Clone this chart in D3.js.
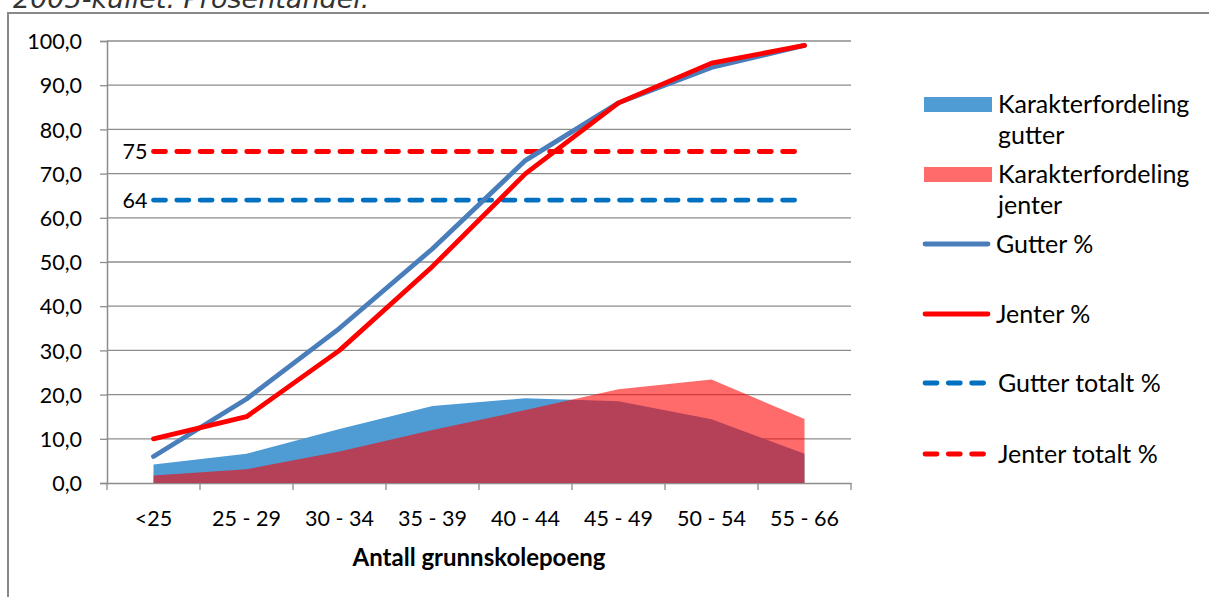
<!DOCTYPE html>
<html><head><meta charset="utf-8">
<script src="https://cdn.jsdelivr.net/npm/d3@7"></script>
<style>
body{margin:0;background:#fff;}
svg{display:block;}
text{font-family:Lato,"Open Sans",sans-serif;fill:#000;}
</style></head>
<body>
<svg id="c" width="1209" height="597"></svg>
<script>
const categories = ["<25","25 - 29","30 - 34","35 - 39","40 - 44","45 - 49","50 - 54","55 - 66"];
const fordelingGutter = [4.2, 6.6, 12.2, 17.4, 19.2, 18.5, 14.4, 6.6];
const fordelingJenter = [1.7, 3.1, 7.1, 12.0, 16.5, 21.2, 23.4, 14.5];
const gutterPct = [6, 19, 35, 53, 73, 86, 94, 99];
const jenterPct = [10, 15, 30, 49, 70, 86, 95, 99];
const gutterTotal = 64;
const jenterTotal = 75;
const yTicks = [0,10,20,30,40,50,60,70,80,90,100];
const seriesNames = ["Karakterfordeling gutter","Karakterfordeling jenter","Gutter %","Jenter %","Gutter totalt %","Jenter totalt %"];

const svg = d3.select("#c");
const L = 107, R = 851, T = 41, B = 483;
const x = d3.scaleBand().domain(categories).range([L, R]);
const xc = d => x(d) + x.bandwidth()/2;
const y = d3.scaleLinear().domain([0,100]).range([B, T]);
const AX = "21.5px";

// title (cut off at top)
svg.append("text").attr("x", 13).attr("y", 8)
  .style("font-family","'DejaVu Sans',sans-serif").style("font-style","italic")
  .style("font-size","27px").style("fill","#333").text("2005-kullet. Prosentandel.");

// outer border
svg.append("path").attr("d","M8,597 L8,13 L1209,13").attr("fill","none").attr("stroke","#888").attr("stroke-width",2);

// gridlines
svg.append("g").selectAll("line").data(yTicks.slice(1)).join("line")
  .attr("x1", L).attr("x2", R).attr("y1", d=>y(d)).attr("y2", d=>y(d))
  .attr("stroke","#8c8c8c").attr("stroke-width",1.3);

// y axis
const ya = svg.append("g").attr("transform",`translate(${L},0)`)
  .call(d3.axisLeft(y).tickValues(yTicks).tickSize(7).tickPadding(3).tickFormat(d=>d3.format(".1f")(d).replace(".",",")));
ya.select(".domain").attr("stroke","#8c8c8c").attr("stroke-width",1.5);
ya.selectAll(".tick line").attr("stroke","#8c8c8c").attr("stroke-width",1.3);
ya.selectAll("text").style("font-size",AX).attr("x",-25).attr("dy","0.36em");

// x axis
const xa = svg.append("g").attr("transform",`translate(0,${B})`)
  .call(d3.axisBottom(x).tickSize(0));
xa.select(".domain").attr("stroke","#8c8c8c").attr("stroke-width",1.5);
xa.selectAll("text").style("font-size",AX).attr("y",43).attr("dy",0);
svg.append("g").selectAll("line").data(d3.range(categories.length+1)).join("line")
  .attr("x1",i=>L + i*x.bandwidth()).attr("x2",i=>L + i*x.bandwidth())
  .attr("y1",B).attr("y2",B+7).attr("stroke","#8c8c8c").attr("stroke-width",1.3);

svg.append("text").attr("x",(L+R)/2).attr("y",566).attr("text-anchor","middle")
  .style("font-size","24px").style("font-weight","bold").text("Antall grunnskolepoeng");

// areas
const area = d3.area().x((d,i)=>xc(categories[i])).y0(B).y1(d=>y(d));
svg.append("path").datum(fordelingGutter).attr("d",area).attr("fill","rgb(79,155,212)");
svg.append("path").datum(fordelingJenter).attr("d",area).attr("fill","rgb(255,0,0)").attr("fill-opacity",0.58);

const DASH = "12,11.3";
// total dashed lines
const dashed = [[gutterTotal,"#0070C0"],[jenterTotal,"#FF0000"]];
dashed.forEach(([v,c])=>{
  svg.append("line").attr("x1",xc(categories[0])).attr("x2",xc(categories[categories.length-1]))
    .attr("y1",y(v)).attr("y2",y(v)).attr("stroke",c).attr("stroke-width",4.8)
    .attr("stroke-linecap","round").attr("stroke-dasharray",DASH);
  svg.append("text").attr("x",xc(categories[0])-6).attr("y",y(v)).attr("dy","0.36em")
    .attr("text-anchor","end").style("font-size",AX).text(v);
});

// lines
const line = d3.line().x((d,i)=>xc(categories[i])).y(d=>y(d));
svg.append("path").datum(gutterPct).attr("d",line).attr("fill","none").attr("stroke","#4A7EBB")
  .attr("stroke-width",4.8).attr("stroke-linecap","round").attr("stroke-linejoin","round");
svg.append("path").datum(jenterPct).attr("d",line).attr("fill","none").attr("stroke","#FF0000")
  .attr("stroke-width",4.8).attr("stroke-linecap","round").attr("stroke-linejoin","round");

// legend
const LG = "25px";
const lg = svg.append("g");
const lx0 = 924, lx1 = 992, tx = 998;
lg.append("rect").attr("x",lx0).attr("y",97).attr("width",lx1-lx0).attr("height",15).attr("fill","rgb(79,155,212)");
lg.append("rect").attr("x",lx0).attr("y",167).attr("width",lx1-lx0).attr("height",15).attr("fill","rgb(255,107,107)");
const t1 = lg.append("text").attr("x",tx).attr("y",113).style("font-size",LG);
t1.append("tspan").attr("x",tx).text("Karakterfordeling");
t1.append("tspan").attr("x",tx).attr("dy",31).text("gutter");
const t2 = lg.append("text").attr("x",tx).attr("y",183).style("font-size",LG);
t2.append("tspan").attr("x",tx).text("Karakterfordeling");
t2.append("tspan").attr("x",tx).attr("dy",31).text("jenter");
const items = [[seriesNames[2],244,"#4A7EBB",null],[seriesNames[3],314,"#FF0000",null],[seriesNames[4],383,"#0070C0",DASH],[seriesNames[5],454,"#FF0000",DASH]];
items.forEach(([n,yy,c,da])=>{
  const l = lg.append("line").attr("x1",lx0+1).attr("x2",da?lx0+61:lx1-4).attr("y1",yy).attr("y2",yy)
    .attr("stroke",c).attr("stroke-width",4.8).attr("stroke-linecap","round");
  if(da) l.attr("stroke-dasharray",da);
  lg.append("text").attr("x",da?tx:tx-2).attr("y",yy).attr("dy","0.36em").style("font-size",LG).text(n);
});
</script>
</body></html>
